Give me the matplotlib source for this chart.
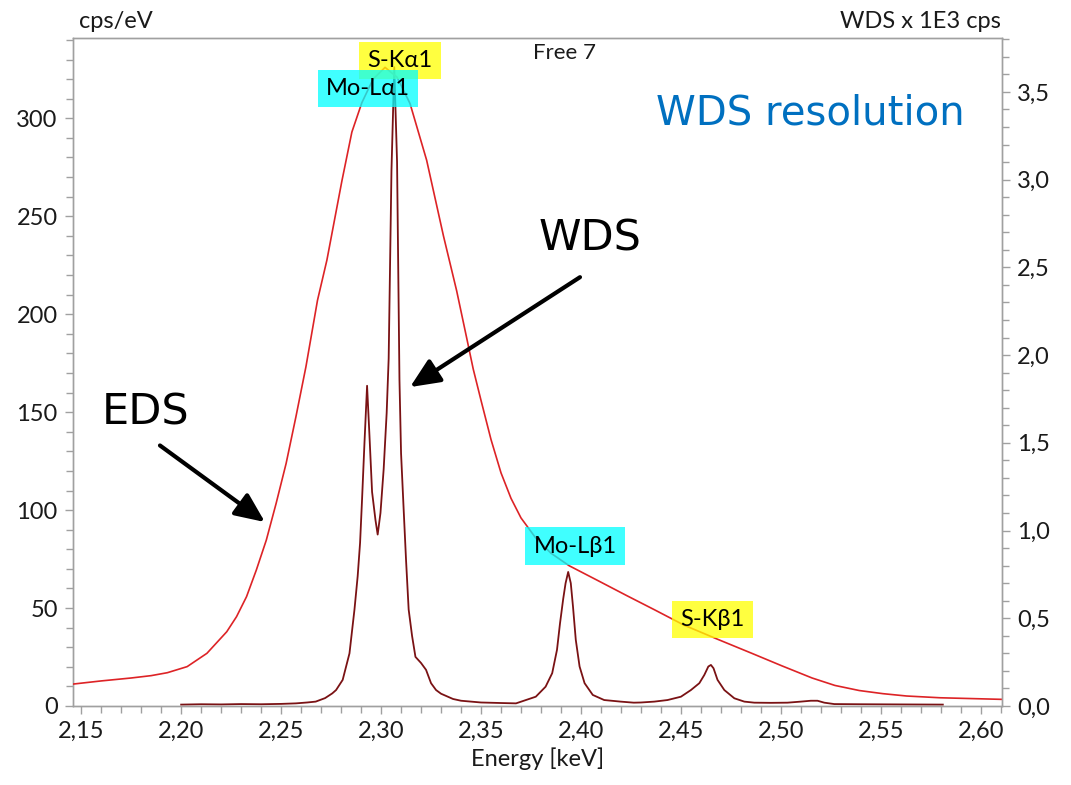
import numpy as np
import matplotlib
matplotlib.use("Agg")
import matplotlib.pyplot as plt
from matplotlib.ticker import MultipleLocator, FuncFormatter

plt.rcParams['font.family'] = ['Lato', 'DejaVu Sans']

# EDS spectrum (left axis, cps/eV)
eds_e = [2.146, 2.160, 2.175, 2.185, 2.1931, 2.2030, 2.2129, 2.2228, 2.2277, 2.2327,
         2.2376, 2.2426, 2.2475, 2.2525, 2.2574, 2.2624, 2.2682, 2.2729, 2.2804, 2.2854,
         2.2904, 2.2960, 2.3020, 2.3080, 2.3145, 2.3228, 2.3312, 2.3378, 2.3428, 2.3461,
         2.3500, 2.3550, 2.3600, 2.3650, 2.3700, 2.3772, 2.3850, 2.3941, 2.4085, 2.4228,
         2.4370, 2.4515, 2.4685, 2.4852, 2.5005, 2.5156, 2.5270, 2.5392, 2.5510, 2.5629,
         2.5797, 2.6101]
eds_v = [11.2, 12.8, 14.3, 15.5, 17.0, 20.1, 26.9, 37.9, 45.6, 55.8,
         69.4, 84.7, 103.4, 123.8, 147.6, 173.1, 207.1, 227.6, 268, 293,
         308, 320, 326, 321, 307.5, 278.6, 240.0, 212.0, 188.0, 172.0,
         156, 136, 119, 106, 96, 86, 78, 71.6, 64, 56.4,
         49, 41.3, 34, 27.0, 20.5, 14.3, 10.5, 7.9, 6.3, 5.1,
         4.2, 3.4]

# WDS spectrum (right axis, x 1E3 cps)
wds_e = [2.200, 2.210, 2.220, 2.230, 2.240, 2.250, 2.2574, 2.2630, 2.2673, 2.2720,
         2.2756, 2.2775, 2.2808, 2.2842, 2.2867, 2.2883, 2.2895, 2.2905, 2.2917, 2.2930,
         2.2942, 2.2955, 2.2972, 2.2983, 2.2997, 2.3013, 2.3028, 2.3038, 2.3052, 2.3066,
         2.3080, 2.3092, 2.3100, 2.3113, 2.3125, 2.3138, 2.3155, 2.3172, 2.3200, 2.3225,
         2.3250, 2.3275, 2.3300, 2.3320, 2.3360, 2.3400, 2.3500, 2.3600, 2.3675, 2.3774,
         2.3823, 2.3856, 2.3880, 2.3895, 2.3911, 2.3923, 2.3936, 2.3949, 2.3960, 2.3974,
         2.3993, 2.4018, 2.4059, 2.4116, 2.4198, 2.4264, 2.4300, 2.4367, 2.4433, 2.4500,
         2.4550, 2.4592, 2.4617, 2.4637, 2.4650, 2.4663, 2.4683, 2.4717, 2.4767, 2.4817,
         2.4867, 2.4950, 2.5033, 2.5100, 2.5150, 2.5183, 2.5217, 2.5267, 2.5400, 2.5600,
         2.5810]
wds_v = [0.008, 0.010, 0.009, 0.011, 0.010, 0.012, 0.015, 0.020, 0.025, 0.045,
         0.072, 0.091, 0.149, 0.30, 0.55, 0.74, 0.93, 1.18, 1.50, 1.825,
         1.54, 1.22, 1.06, 0.977, 1.10, 1.35, 1.67, 1.98, 3.05, 3.64,
         3.10, 1.86, 1.44, 1.12, 0.83, 0.55, 0.40, 0.28, 0.245, 0.206,
         0.13, 0.091, 0.07, 0.06, 0.04, 0.03, 0.02, 0.017, 0.015, 0.053,
         0.11, 0.187, 0.32, 0.47, 0.61, 0.70, 0.764, 0.70, 0.567, 0.377,
         0.225, 0.13, 0.063, 0.034, 0.025, 0.019, 0.02, 0.025, 0.034, 0.053,
         0.091, 0.13, 0.177, 0.225, 0.234, 0.215, 0.149, 0.091, 0.044, 0.025,
         0.019, 0.018, 0.019, 0.025, 0.03, 0.03, 0.019, 0.011, 0.010, 0.009,
         0.008]

# line labels: text, energy, cps/eV, colour
line_names = ["S-Kα1", "Mo-Lα1", "Mo-Lβ1", "S-Kβ1"]
line_pos_e = [2.3095, 2.2935, 2.397, 2.4656]
line_pos_y = [329.5, 315.3, 81.6, 44.2]
line_cols = ["#ffff00", "#00ffff", "#00ffff", "#ffff00"]

grey = "#a0a0a0"

fig = plt.figure(figsize=(10.71, 7.85), dpi=100)
ax = fig.add_axes([73 / 1071, 79 / 785, 929 / 1071, 668 / 785])
ax2 = ax.twinx()

ax.plot(eds_e, eds_v, color="#dd2326", lw=1.2, zorder=3)
ax2.plot(wds_e, wds_v, color="#7a1214", lw=1.3, zorder=3)

ax.set_xlim(2.1459, 2.6106)
ax.set_ylim(0, 341)
ax2.set_ylim(0, 3.807)

ax.xaxis.set_major_locator(MultipleLocator(0.05))
ax.xaxis.set_minor_locator(MultipleLocator(0.01))
ax.yaxis.set_major_locator(MultipleLocator(50))
ax.yaxis.set_minor_locator(MultipleLocator(10))
ax2.yaxis.set_major_locator(MultipleLocator(0.5))
ax2.yaxis.set_minor_locator(MultipleLocator(0.1))

ax.xaxis.set_major_formatter(FuncFormatter(lambda v, p: f"{v:.2f}".replace(".", ",")))
ax.yaxis.set_major_formatter(FuncFormatter(lambda v, p: f"{v:.0f}"))
ax2.yaxis.set_major_formatter(FuncFormatter(lambda v, p: f"{v:.1f}".replace(".", ",")))

for a in (ax, ax2):
    for s in a.spines.values():
        s.set_color(grey)
        s.set_linewidth(1.0)
    a.tick_params(which="major", direction="out", length=6, width=1, color=grey,
                  labelsize=17, labelcolor="#1a1a1a", pad=5)
    a.tick_params(which="minor", direction="out", length=5, width=1, color=grey)

ax.set_xlabel("Energy [keV]", fontsize=17, color="#1a1a1a", labelpad=4)

fig.text(79 / 1071, 1 - 22 / 785, "cps/eV", fontsize=17, color="#1a1a1a",
         ha="left", va="center")
fig.text(1001 / 1071, 1 - 22 / 785, "WDS x 1E3 cps", fontsize=17, color="#1a1a1a",
         ha="right", va="center")
ax.text(2.392, 333.5, "Free 7", fontsize=16, color="#1a1a1a", ha="center", va="center")

ax.text(2.5146, 302.6, "WDS resolution", fontsize=29, color="#0070c0",
        family="DejaVu Sans", ha="center", va="center")

ax.text(2.1824, 150, "EDS", fontsize=31, family="DejaVu Sans", ha="center", va="center")
ax.text(2.4045, 238.8, "WDS", fontsize=31, family="DejaVu Sans", ha="center", va="center")

arrow = dict(arrowstyle="-|>,head_length=0.9,head_width=0.4", mutation_scale=20,
             color="black", lw=3, shrinkA=0, shrinkB=0)
ax.annotate("", xy=(2.2419, 93.9), xytext=(2.1894, 133), arrowprops=arrow)
ax.annotate("", xy=(2.3145, 162.8), xytext=(2.3995, 218.9), arrowprops=arrow)

for name, e, y, c in zip(line_names, line_pos_e, line_pos_y, line_cols):
    ax.text(e, y, name, fontsize=17, color="black", ha="center", va="center", zorder=5,
            bbox=dict(boxstyle="square,pad=0.35", fc=c, ec="none", alpha=0.75))

ax.set_zorder(ax2.get_zorder() + 1)
ax.patch.set_visible(False)

fig.savefig("out.png", dpi=100)
